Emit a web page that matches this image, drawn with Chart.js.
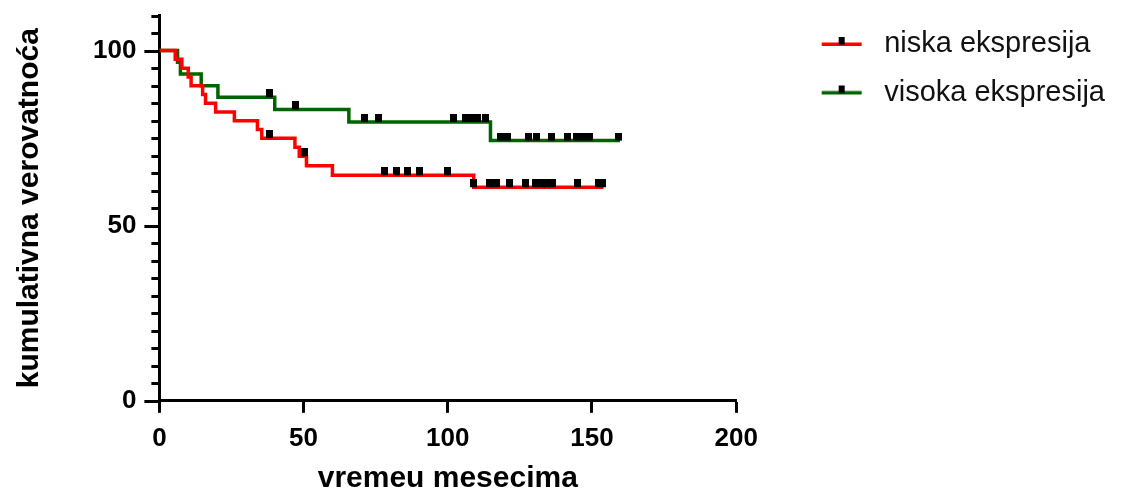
<!DOCTYPE html>
<html>
<head>
<meta charset="utf-8">
<script src="https://cdn.jsdelivr.net/npm/chart.js@4/dist/chart.umd.min.js"></script>
<style>
html,body{margin:0;padding:0;background:#fff;}
#wrap{width:1126px;height:494px;}
</style>
</head>
<body>
<div id="wrap"><canvas id="c" width="1126" height="494"></canvas></div>
<script>
// ---------- data ----------
const xTitle = 'vremeu mesecima';
const yTitle = 'kumulativna verovatnoća';
const seriesNames = ['niska ekspresija', 'visoka ekspresija'];
const seriesColors = ['#ff0000', '#006400'];
const xTickValues = [0, 50, 100, 150, 200];
const yLabelValues = [0, 50, 100];

// niska ekspresija (red): event times and survival after each event
const redEventTimes = [0, 5.5, 7.8, 10, 11, 15, 16, 19.5, 26, 34, 35.5, 47, 48.5, 51, 60, 109];
const redSurvival   = [100, 97.5, 95, 92.5, 90, 87.5, 85, 82.5, 80, 77.5, 75, 72.4, 69.8, 67.1, 64.4, 61.0];
const redLastTime = 154;
const redCensored = [38.2, 50.3, 78.1, 82.2, 86, 90.3, 99.9, 109, 114.5, 116.8, 121.5, 127, 130.5, 132.5, 134.5, 136.3, 145, 152.3, 153.5];

// visoka ekspresija (green)
const greenEventTimes = [0, 6.3, 7.3, 14.5, 20.3, 40, 65.7, 114.8];
const greenSurvival   = [100, 96.7, 93.3, 90, 86.7, 83.2, 79.6, 74.3];
const greenLastTime = 159.7;
const greenCensored = [38.2, 47.2, 71.2, 76, 102, 106.3, 108.6, 110.4, 113.2, 118.3, 120.8, 128.1, 130.7, 136, 141.4, 144.6, 146.8, 149.2, 159.3];

// ---------- helpers ----------
function stepPoints(times, surv, last) {
  const pts = [{x: times[0], y: surv[0]}];
  for (let i = 1; i < times.length; i++) {
    pts.push({x: times[i], y: surv[i - 1]});
    pts.push({x: times[i], y: surv[i]});
  }
  pts.push({x: last, y: surv[surv.length - 1]});
  return pts;
}
function levelAt(times, surv, t) {
  let s = surv[0];
  for (let i = 0; i < times.length; i++) if (times[i] <= t) s = surv[i];
  return s;
}
function censorPoints(times, surv, cens) {
  return cens.map(t => ({x: t, y: levelAt(times, surv, t)}));
}
function makeMark() {
  const c = document.createElement('canvas');
  c.width = 7; c.height = 16;
  const g = c.getContext('2d');
  g.fillStyle = '#000';
  g.fillRect(0, 0, 7, 8);
  return c;
}
function makeLegendIcon(color) {
  const c = document.createElement('canvas');
  c.width = 114; c.height = 16;
  const g = c.getContext('2d');
  g.fillStyle = color;
  g.fillRect(66, 6.5, 40, 3.5);
  g.fillStyle = '#000';
  g.fillRect(83, 1, 6, 7.5);
  return c;
}
const markImg = makeMark();
const legendIcons = seriesColors.map(makeLegendIcon);

const FONT = "'Liberation Sans', Arial, sans-serif";

// y-axis tick marks: long at labelled values, short elsewhere
const yTickMarks = {
  id: 'yTickMarks',
  afterDraw(chart) {
    const ys = chart.scales.y;
    const ctx = chart.ctx;
    const left = chart.chartArea.left;
    ctx.save();
    ctx.strokeStyle = '#000';
    ctx.lineWidth = 3;
    ys.ticks.forEach(t => {
      const len = yLabelValues.includes(t.value) ? 15 : 8;
      const py = Math.round(ys.getPixelForValue(t.value)) + 0.5;
      ctx.beginPath();
      ctx.moveTo(left - len, py);
      ctx.lineTo(left, py);
      ctx.stroke();
    });
    ctx.restore();
  }
};

new Chart(document.getElementById('c'), {
  type: 'line',
  data: {
    datasets: [
      {
        label: seriesNames[0],
        data: stepPoints(redEventTimes, redSurvival, redLastTime),
        borderColor: seriesColors[0], borderWidth: 3.5, pointRadius: 0,
        fill: false, tension: 0, order: 1
      },
      {
        label: seriesNames[1],
        data: stepPoints(greenEventTimes, greenSurvival, greenLastTime),
        borderColor: seriesColors[1], borderWidth: 3.5, pointRadius: 0,
        fill: false, tension: 0, order: 2
      },
      {
        label: 'cens-red',
        data: censorPoints(redEventTimes, redSurvival, redCensored),
        showLine: false, pointStyle: markImg, pointRadius: 4, order: 0
      },
      {
        label: 'cens-green',
        data: censorPoints(greenEventTimes, greenSurvival, greenCensored),
        showLine: false, pointStyle: markImg, pointRadius: 4, order: 0
      }
    ]
  },
  options: {
    responsive: false,
    animation: false,
    events: [],
    layout: { padding: { left: 0, right: 11, top: -5, bottom: 0 } },
    scales: {
      x: {
        type: 'linear', min: 0, max: 200,
        border: { display: true, color: '#000', width: 3 },
        grid: { drawOnChartArea: false, drawTicks: true, tickLength: 12, tickWidth: 3, tickColor: '#000' },
        afterBuildTicks: s => { s.ticks = xTickValues.map(v => ({value: v})); },
        ticks: {
          autoSkip: false, maxRotation: 0, padding: 10, color: '#000',
          font: { family: FONT, size: 26, weight: 'bold' }
        },
        title: {
          display: true, text: xTitle, color: '#000',
          font: { family: FONT, size: 30, weight: 'bold', lineHeight: 1 },
          padding: { top: 0, bottom: 0 }
        }
      },
      y: {
        type: 'linear', min: 0, max: 110,
        border: { display: true, color: '#000', width: 3 },
        grid: {
          drawOnChartArea: false, drawTicks: true, tickLength: 23, tickWidth: 3,
          tickColor: 'rgba(0,0,0,0)'
        },
        ticks: {
          stepSize: 5, autoSkip: false, padding: 0, color: '#000',
          font: { family: FONT, size: 26, weight: 'bold' },
          callback: v => yLabelValues.includes(v) ? String(v) : ''
        },
        title: {
          display: true, text: yTitle, color: '#000',
          font: { family: FONT, size: 30, weight: 'bold', lineHeight: 1 },
          padding: { top: 15, bottom: 48 }
        }
      }
    },
    plugins: {
      tooltip: { enabled: false },
      legend: {
        display: true, position: 'right', align: 'start', maxWidth: 420,
        title: { display: true, text: ' ', padding: 0, font: { size: 15, lineHeight: 1 } },
        labels: {
          usePointStyle: true, pointStyleWidth: 114, padding: 19.5,
          color: '#111',
          font: { family: FONT, size: 29 },
          generateLabels: chart => [0, 1].map(i => ({
            text: chart.data.datasets[i].label,
            pointStyle: legendIcons[i],
            fillStyle: 'rgba(0,0,0,0)', strokeStyle: 'rgba(0,0,0,0)', lineWidth: 0,
            hidden: false, datasetIndex: i, fontColor: '#111'
          }))
        }
      }
    }
  },
  plugins: [yTickMarks]
});
</script>
</body>
</html>
